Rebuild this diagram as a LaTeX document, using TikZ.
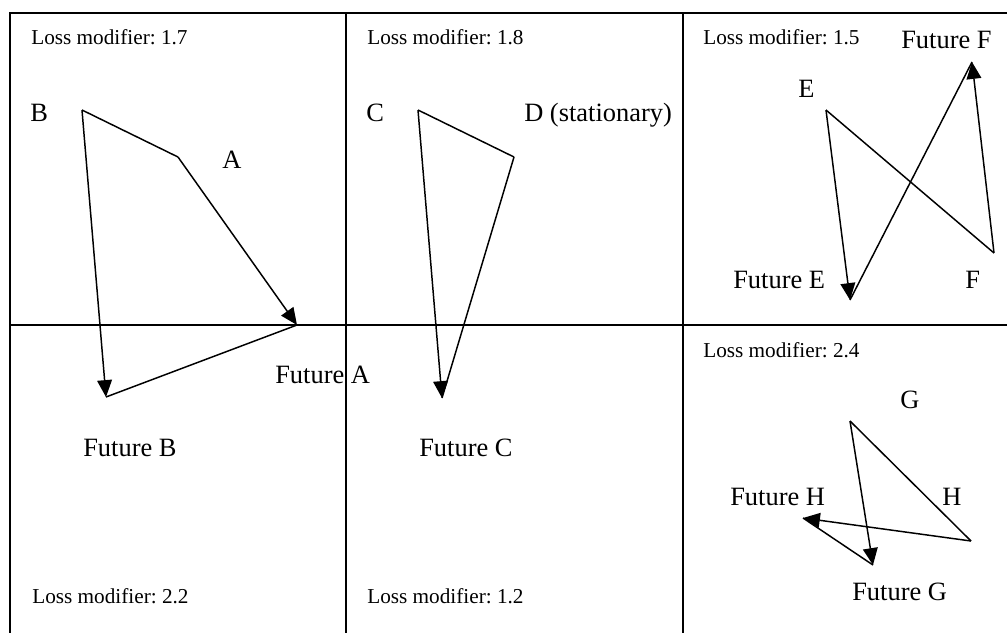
\documentclass[tikz,border=0pt]{standalone}
\usepackage{fontspec}
\setmainfont{Liberation Serif}
\usetikzlibrary{arrows.meta}

\tikzset{
  grid/.style={line width=1.6pt},
  move/.style={line width=1.05pt,-{Triangle[length=12pt,width=10.5pt]}},
  link/.style={line width=1.05pt},
  lbl/.style={anchor=base west,inner sep=0pt,font=\fontsize{18.8}{22}\selectfont},
  loss/.style={anchor=base west,inner sep=0pt,font=\fontsize{15.1}{18}\selectfont}
}
\frenchspacing

\begin{document}
\begin{tikzpicture}[x=0.025cm,y=-0.025cm]
    \useasboundingbox (0,0) rectangle (1007,633);

    % Rejilla
    \coordinate (tl) at (10,13);
    \coordinate (tr) at (1007,13);
    \coordinate (ml) at (10,325);
    \coordinate (mr) at (1007,325);
    \draw[grid] (tr) -- (tl) -- (10,633);
    \draw[grid] (ml) -- (mr);
    \draw[grid] (346,13) -- (346,633);
    \draw[grid] (683,13) -- (683,633);

    % Celda A/B
    \node[loss] (l17) at (31,44) {Loss modifier: 1.7};
    \node[loss] (l22) at (32,603) {Loss modifier: 2.2};
    \coordinate (pB) at (82,110);
    \coordinate (pA) at (178,157);
    \coordinate (fA) at (297,325);
    \coordinate (fB) at (106,397);
    \draw[link] (pB) -- (pA);
    \draw[move] (pA) -- (fA);
    \draw[move] (pB) -- (fB);
    \draw[link] (fB) -- (fA);
    \node[lbl] (tB) at (30,121) {B};
    \node[lbl] (tA) at (222,168) {A};
    \node[lbl] (tfA) at (275,383) {Future A};
    \node[lbl] (tfB) at (83,456) {Future B};

    % Celda C/D
    \node[loss] (l18) at (367,44) {Loss modifier: 1.8};
    \node[loss] (l12) at (367,603) {Loss modifier: 1.2};
    \coordinate (pC) at (418,110);
    \coordinate (pD) at (514,157);
    \coordinate (fC) at (442,398);
    \draw[link] (pC) -- (pD);
    \draw[move] (pC) -- (fC);
    \draw[link] (pD) -- (fC);
    \node[lbl] (tC) at (366,121) {C};
    \node[lbl] (tD) at (524,121) {D (stationary)};
    \node[lbl] (tfC) at (419,456) {Future C};

    % Celda E/F
    \node[loss] (l15) at (703,44) {Loss modifier: 1.5};
    \coordinate (pE) at (826,110);
    \coordinate (pF) at (994,253);
    \coordinate (fE) at (850,300);
    \coordinate (fF) at (972,62);
    \draw[link] (pE) -- (pF);
    \draw[move] (pE) -- (fE);
    \draw[move] (pF) -- (fF);
    \draw[link] (fE) -- (fF);
    \node[lbl] (tE) at (798,97) {E};
    \node[lbl] (tfF) at (901,48) {Future F};
    \node[lbl] (tfE) at (733,288) {Future E};
    \node[lbl] (tF) at (965,288) {F};

    % Celda G/H
    \node[loss] (l24) at (703,357) {Loss modifier: 2.4};
    \coordinate (pG) at (850,421);
    \coordinate (pH) at (971,541);
    \coordinate (fG) at (873,565);
    \coordinate (fH) at (803,518);
    \draw[link] (pG) -- (pH);
    \draw[move] (pG) -- (fG);
    \draw[move] (pH) -- (fH);
    \draw[link] (fG) -- (fH);
    \node[lbl] (tG) at (900,408) {G};
    \node[lbl] (tfH) at (730,505) {Future H};
    \node[lbl] (tH) at (942,505) {H};
    \node[lbl] (tfG) at (852,600) {Future G};
\end{tikzpicture}
\end{document}
